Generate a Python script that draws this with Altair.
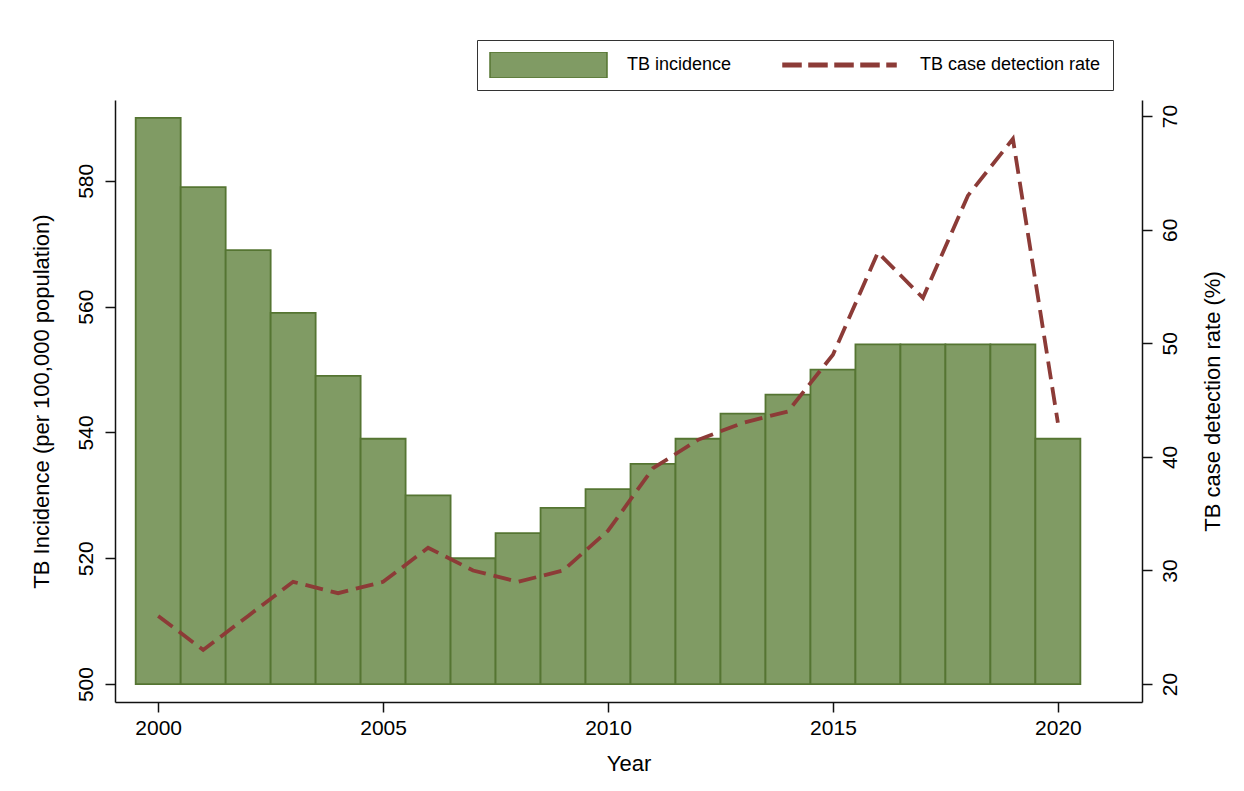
import altair as alt
import pandas as pd

# ---- data ----
years = list(range(2000, 2021))
incidence = [590, 579, 569, 559, 549, 539, 530, 520, 524, 528, 531,
             535, 539, 543, 546, 550, 554, 554, 554, 554, 539]
detection = [26, 23, 26, 29, 28, 29, 32, 30, 29, 30, 33.5,
             39, 41.5, 43, 44, 49, 58, 54, 63, 68, 43]
legend_labels = ["TB incidence", "TB case detection rate"]
x_ticks = [2000, 2005, 2010, 2015, 2020]
left_ticks = [500, 520, 540, 560, 580]
right_ticks = [20, 30, 40, 50, 60, 70]

df = pd.DataFrame({"year": years, "incidence": incidence, "detection": detection})
leg_df = pd.DataFrame({"series": legend_labels})

FONT = "Liberation Sans"
GREEN = "#809b64"
GREEN_DARK = "#557532"
RED = "#8c3b37"
AX = "#111111"

RECT_PATH = "M-1,-0.222L1,-0.222L1,0.222L-1,0.222Z"
h = 0.028
dashes = [(-1, -0.692), (-0.556, -0.248), (-0.111, 0.197), (0.333, 0.641), (0.778, 0.932)]
DASH_PATH = " ".join(f"M{a},{-h}L{b},{-h}L{b},{h}L{a},{h}Z" for a, b in dashes)

x_scale = alt.Scale(domain=[1999.04, 2021.87], nice=False, zero=False)
x_axis = alt.Axis(values=x_ticks, format="d", title="Year", labelFlush=False,
                  labelPadding=5, titlePadding=15)

bars = alt.Chart(df).transform_calculate(
    x0="datum.year - 0.5", x1="datum.year + 0.5"
).mark_bar(fill=GREEN, stroke=GREEN_DARK, strokeWidth=1.8, opacity=1).encode(
    x=alt.X("x0:Q", scale=x_scale, axis=x_axis),
    x2="x1:Q",
    y=alt.Y("incidence:Q",
            scale=alt.Scale(domain=[497.15, 592.85], nice=False, zero=False),
            axis=alt.Axis(orient="left", values=left_ticks,
                          title="TB Incidence (per 100,000 population)",
                          labelAngle=270, labelAlign="center", labelBaseline="bottom",
                          labelPadding=9, titlePadding=22, labelFlush=False)),
    y2=alt.datum(500),
)

line = alt.Chart(df).mark_line(color=RED, strokeWidth=3.8, strokeDash=[18, 8],
                               strokeCap="butt").encode(
    x=alt.X("year:Q", scale=x_scale, axis=x_axis),
    y=alt.Y("detection:Q",
            scale=alt.Scale(domain=[18.42, 71.42], nice=False, zero=False),
            axis=alt.Axis(orient="right", values=right_ticks,
                          title="TB case detection rate (%)",
                          labelAngle=270, labelAlign="center", labelBaseline="top",
                          labelPadding=7, titleAngle=270, titleBaseline="top",
                          titlePadding=22, labelFlush=False)),
)

leg_spec = alt.Legend(
    title=None, orient="none", legendX=362, legendY=-60, direction="horizontal",
    symbolSize=13689, symbolStrokeWidth=1.5, clipHeight=26,
    labelFont=FONT, labelFontSize=18, labelColor="black", labelLimit=400,
    labelOffset=19, columnPadding=50, padding=12,
    strokeColor="#333333", fillColor="white",
)

legend_layer = alt.Chart(leg_df).transform_filter("false").mark_point(
    filled=True, opacity=1, size=13689, strokeWidth=1.5
).encode(
    fill=alt.Fill("series:N", scale=alt.Scale(domain=legend_labels, range=[GREEN, RED]),
                  legend=leg_spec),
    stroke=alt.Stroke("series:N", scale=alt.Scale(domain=legend_labels, range=[GREEN_DARK, RED]),
                      legend=leg_spec),
    shape=alt.Shape("series:N", scale=alt.Scale(domain=legend_labels, range=[RECT_PATH, DASH_PATH]),
                    legend=leg_spec),
)

chart = alt.layer(bars, line, legend_layer).resolve_scale(
    y="independent"
).properties(
    width=1027, height=602,
    background="white",
    autosize=alt.AutoSizeParams(type="none"),
    padding={"left": 107, "top": 92, "right": 94, "bottom": 81},
).configure_view(stroke=None).configure_axis(
    grid=False, domainColor=AX, domainWidth=1.5, tickColor=AX, tickWidth=1.5,
    tickSize=10, labelFont=FONT, labelFontSize=21, labelColor="black",
    titleFont=FONT, titleFontSize=22, titleFontWeight="normal", titleColor="black",
)

chart.save("out.html", embed_options={"renderer": "svg", "actions": False})
